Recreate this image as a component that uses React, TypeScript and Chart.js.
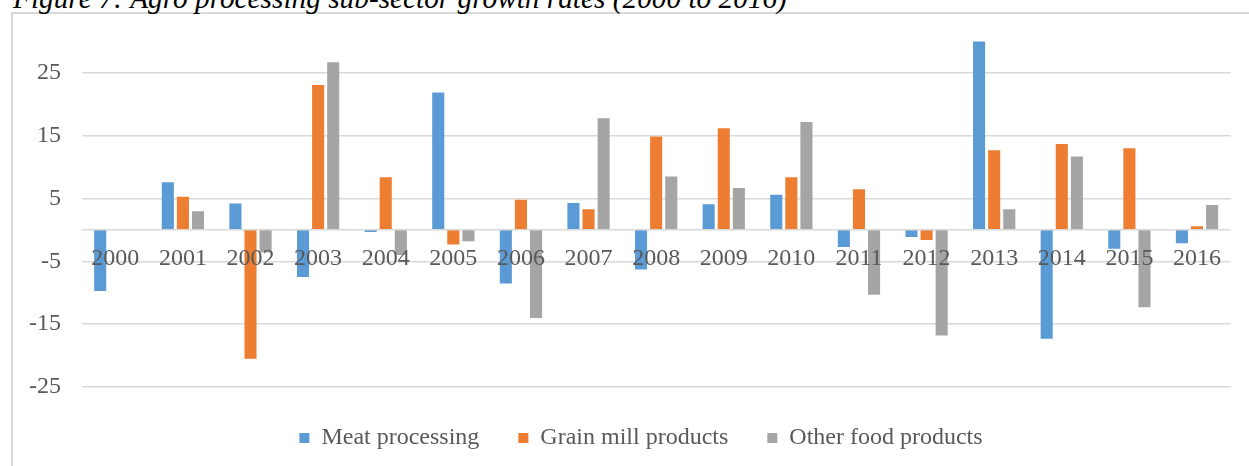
import React, { useEffect, useRef } from "react";
import { Chart, registerables } from "chart.js";

Chart.register(...registerables);

const years = ["2000","2001","2002","2003","2004","2005","2006","2007","2008","2009","2010","2011","2012","2013","2014","2015","2016"];
const meatProcessing = [-9.7, 7.6, 4.2, -7.5, -0.3, 21.9, -8.5, 4.3, -6.3, 4.1, 5.6, -2.7, -1.1, 30.1, -17.3, -3.0, -2.1];
const grainMillProducts = [0, 5.3, -20.5, 23.1, 8.4, -2.3, 4.8, 3.3, 14.9, 16.2, 8.4, 6.5, -1.6, 12.7, 13.7, 13.0, 0.6];
const otherFoodProducts = [0, 3.0, -3.6, 26.7, -4.0, -1.8, -14.0, 17.8, 8.5, 6.7, 17.2, -10.3, -16.8, 3.3, 11.7, -12.3, 4.0];
const yTicks = [-25, -15, -5, 5, 15, 25];

const TITLE = "Figure 7: Agro processing sub-sector growth rates (2000 to 2016)";
const FONT = "'Liberation Serif', 'Times New Roman', serif";
const TEXT = "#595959";
const GRID = "#d9d9d9";

export default function App() {
  const ref = useRef<HTMLCanvasElement | null>(null);

  useEffect(() => {
    if (!ref.current) return;
    const chart = new Chart(ref.current, {
      type: "bar",
      data: {
        labels: years,
        datasets: [
          { label: "Meat processing", data: meatProcessing, backgroundColor: "#5B9BD5" },
          { label: "Grain mill products", data: grainMillProducts, backgroundColor: "#ED7D31" },
          { label: "Other food products", data: otherFoodProducts, backgroundColor: "#A5A5A5" },
        ],
      },
      options: {
        animation: false,
        responsive: false,
        maintainAspectRatio: false,
        datasets: { bar: { categoryPercentage: 0.67, barPercentage: 0.8, borderWidth: 0 } },
        layout: { padding: { left: 29, right: -4, top: 41.6, bottom: 6 } },
        plugins: {
          title: { display: false },
          tooltip: { enabled: false },
          legend: {
            position: "bottom",
            labels: {
              boxWidth: 10,
              boxHeight: 10,
              padding: 39,
              color: TEXT,
              font: { family: FONT, size: 24 },
            },
          },
        },
        scales: {
          x: {
            position: { y: 0 },
            grid: { display: false, drawTicks: false },
            border: { display: true, color: GRID, width: 1.5, z: 1 },
            ticks: {
              z: 2,
              padding: 14,
              color: TEXT,
              maxRotation: 0,
              autoSkip: false,
              font: { family: FONT, size: 24 },
            },
          },
          y: {
            min: -25,
            max: 30,
            afterBuildTicks: (scale: any) => {
              scale.ticks = yTicks.map((v) => ({ value: v }));
            },
            afterFit: (scale: any) => {
              scale.width = 52.5;
            },
            grid: { color: GRID, lineWidth: 1.5, drawTicks: false },
            border: { display: false },
            ticks: {
              padding: 20.5,
              color: TEXT,
              font: { family: FONT, size: 24 },
            },
          },
          yRight: {
            position: "right",
            min: -25,
            max: 30,
            grid: { display: false, drawTicks: false },
            border: { display: false },
            ticks: { display: false },
            afterFit: (scale: any) => {
              scale.width = 22.2;
            },
          },
        },
      },
    });
    return () => chart.destroy();
  }, []);

  return (
    <div style={{ position: "fixed", left: 0, top: 0, width: 1249, height: 466, overflow: "hidden", background: "#fff" }}>
      <div
        style={{
          position: "absolute",
          left: 11,
          top: 11.5,
          width: 1300,
          height: 600,
          borderLeft: `2px solid ${GRID}`,
          borderTop: `2px solid ${GRID}`,
          boxSizing: "border-box",
        }}
      />
      <div
        style={{
          position: "absolute",
          left: 13,
          top: -16,
          whiteSpace: "nowrap",
          fontFamily: FONT,
          fontStyle: "italic",
          fontSize: 29.3,
          lineHeight: "29px",
          color: "#000",
        }}
      >
        {TITLE}
      </div>
      <canvas ref={ref} width={1249} height={466} style={{ position: "absolute", left: 0, top: 0, width: 1249, height: 466 }} />
    </div>
  );
}
